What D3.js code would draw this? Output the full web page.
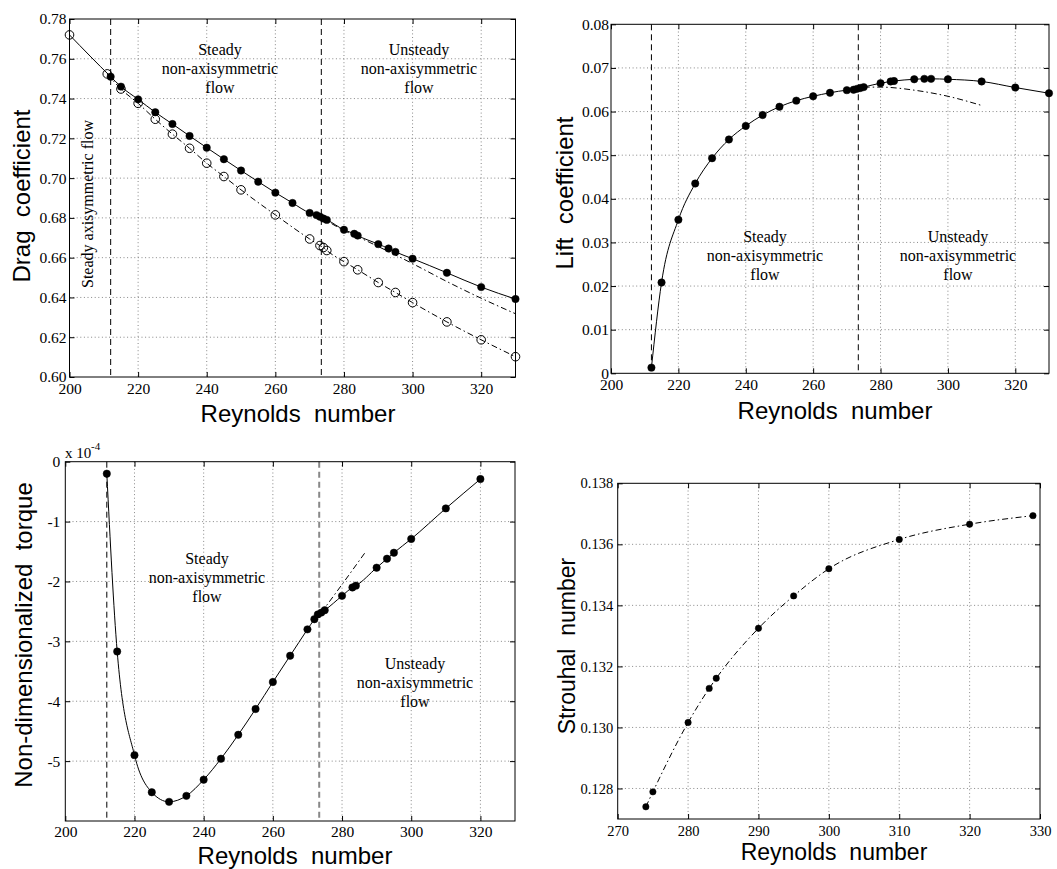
<!DOCTYPE html>
<html>
<head>
<meta charset="utf-8">
<script src="https://cdn.jsdelivr.net/npm/d3@7"></script>
<style>
  html, body { margin: 0; padding: 0; background: #fff; }
  svg { display: block; }
</style>
</head>
<body>
<svg id="chart" width="1057" height="869"></svg>
<script>
// ---------------- DATA ----------------
// Drag coefficient, steady non-axisymmetric / unsteady branch (filled dots, solid line)
const reSteady = [212,215,220,225,230,235,240,245,250,255,260,265,270,272,273,274,275,280,283,284,290,293,295,300,310,320,330];
const cdSteady = [0.7510,0.7460,0.7396,0.7331,0.7272,0.7212,0.7153,0.7095,0.7038,0.6982,0.6927,0.6875,0.6825,0.6814,0.6806,0.6797,0.6790,0.6740,0.6720,0.6711,0.6668,0.6646,0.6629,0.6595,0.6524,0.6452,0.6392];
// Drag coefficient, axisymmetric branch (open circles)
const reAxisym = [200,211,215,220,225,230,235,240,245,250,260,270,273,274,275,280,284,290,295,300,310,320,330];
const cdAxisym = [0.7720,0.7524,0.7448,0.7376,0.7296,0.7221,0.7150,0.7075,0.7008,0.6941,0.6815,0.6694,0.6661,0.6651,0.6636,0.6580,0.6539,0.6475,0.6425,0.6374,0.6277,0.6187,0.6102];
// Drag coefficient, steady continuation (dash-dot)
const reCdExt = [273,280,285,290,300,310,320,330];
const cdExt = [0.6806,0.6737,0.6697,0.6656,0.6570,0.6480,0.6396,0.6318];

// Lift coefficient
const reLift = [212,215,220,225,230,235,240,245,250,255,260,265,270,272,273,274,275,280,283,284,290,293,295,300,310,320,330];
const clLift = [0.0013,0.0208,0.0352,0.0435,0.0493,0.0536,0.0567,0.0592,0.0611,0.0625,0.0635,0.0643,0.0649,0.0650,0.0652,0.0654,0.0656,0.0665,0.0669,0.0670,0.0674,0.0675,0.0675,0.0674,0.0669,0.0655,0.0642];
const reLiftExt = [275,280,290,300,310];
const clLiftExt = [0.0656,0.0656,0.0649,0.0635,0.0614];

// Non-dimensionalized torque (x 10^-4)
const reTorque = [212,215,220,225,230,235,240,245,250,255,260,265,270,272,273,274,275,280,283,284,290,293,295,300,310,320];
const torqueE4 = [-0.20,-3.17,-4.90,-5.52,-5.68,-5.58,-5.31,-4.96,-4.56,-4.13,-3.68,-3.24,-2.80,-2.63,-2.55,-2.52,-2.48,-2.24,-2.10,-2.07,-1.77,-1.62,-1.52,-1.29,-0.78,-0.29];
const reTorqueExt = [274,280,287];
const torqueExtE4 = [-2.52,-2.05,-1.49];

// Strouhal number
const reStrouhal = [274,275,280,283,284,290,295,300,310,320,329];
const stStrouhal = [0.12740,0.12789,0.13016,0.13128,0.13161,0.13325,0.13431,0.13520,0.13616,0.13666,0.13694];

// Regime transitions
const transitionRe = [212, 273.4];

// Ticks
const reTicks = [200,220,240,260,280,300,320];
const reTicksSt = [270,280,290,300,310,320,330];
const cdTicks = [0.60,0.62,0.64,0.66,0.68,0.70,0.72,0.74,0.76,0.78];
const clTicks = [0,0.01,0.02,0.03,0.04,0.05,0.06,0.07,0.08];
const tqTicks = [0,-1,-2,-3,-4,-5];
const stTicks = [0.128,0.130,0.132,0.134,0.136,0.138];

// Labels
const xTitle = "Reynolds\u00a0\u00a0number";
const regimeSteady = ["Steady", "non-axisymmetric", "flow"];
const regimeUnsteady = ["Unsteady", "non-axisymmetric", "flow"];

// ---------------- DRAWING ----------------
const SERIF = "'Liberation Serif','Times New Roman',serif";
const SANS = "'Liberation Sans',Arial,Helvetica,sans-serif";
const svg = d3.select("#chart");

function zip(a, b) { return a.map((v, i) => [v, b[i]]); }

function panel(o) {
  const g = svg.append("g");
  const x = d3.scaleLinear().domain(o.xd).range([o.l, o.r]);
  const y = d3.scaleLinear().domain(o.yd).range([o.b, o.t]);

  // grid
  const gridStyle = s => s.attr("stroke", "#7a7a7a").attr("stroke-width", 0.9).attr("stroke-dasharray", "1,2.6").attr("fill", "none");
  g.append("g").selectAll("line").data(o.xTicks.filter(v => v > o.xd[0] && v < o.xd[1]))
    .join("line").attr("x1", d => x(d)).attr("x2", d => x(d)).attr("y1", o.t).attr("y2", o.b).call(gridStyle);
  g.append("g").selectAll("line").data(o.yTicks.filter(v => v > Math.min(...o.yd) && v < Math.max(...o.yd)))
    .join("line").attr("y1", d => y(d)).attr("y2", d => y(d)).attr("x1", o.l).attr("x2", o.r).call(gridStyle);

  // transitions
  if (o.transitions) {
    o.transitions.forEach((t, i) => {
      const st = o.transStyles ? o.transStyles[i] : {c: "#000", w: 1};
      g.append("line").attr("x1", x(t)).attr("x2", x(t)).attr("y1", o.t).attr("y2", o.b)
        .attr("stroke", st.c).attr("stroke-width", st.w).attr("stroke-dasharray", "6,4");
    });
  }

  // lines
  (o.lines || []).forEach(L => {
    const line = d3.line().x(d => x(d[0])).y(d => y(d[1])).curve(d3.curveMonotoneX);
    g.append("path").attr("d", line(L.data)).attr("fill", "none")
      .attr("stroke", "#000").attr("stroke-width", L.w || 1)
      .attr("stroke-dasharray", L.dash || null);
  });

  // markers
  (o.markers || []).forEach(M => {
    g.append("g").selectAll("circle").data(M.data).join("circle")
      .attr("cx", d => x(d[0])).attr("cy", d => y(d[1])).attr("r", M.r)
      .attr("fill", M.open ? "none" : "#000").attr("stroke", "#000").attr("stroke-width", M.open ? 1 : 0.5);
  });

  // axes
  const fs = o.tickFont || 15.5;
  const ax = g.append("g").attr("transform", `translate(0,${o.b})`)
    .call(d3.axisBottom(x).tickValues(o.xTicks).tickSize(-5).tickSizeOuter(0).tickPadding(o.xPad).tickFormat(d3.format("d")));
  const ay = g.append("g").attr("transform", `translate(${o.l},0)`)
    .call(d3.axisLeft(y).tickValues(o.yTicks).tickSize(-5).tickSizeOuter(0).tickPadding(o.yPad).tickFormat(o.yFmt));
  const at = g.append("g").attr("transform", `translate(0,${o.t})`)
    .call(d3.axisTop(x).tickValues(o.xTicks).tickSize(-5).tickSizeOuter(0).tickFormat(""));
  const ar = g.append("g").attr("transform", `translate(${o.r},0)`)
    .call(d3.axisRight(y).tickValues(o.yTicks).tickSize(-5).tickSizeOuter(0).tickFormat(""));
  [ax, ay, at, ar].forEach(a => {
    a.attr("font-family", SERIF).attr("font-size", fs);
    a.selectAll("path.domain").remove();
    a.selectAll(".tick line").attr("stroke", "#000");
    a.selectAll(".tick text").attr("fill", "#000");
  });
  g.append("rect").attr("x", o.l).attr("y", o.t).attr("width", o.r - o.l).attr("height", o.b - o.t)
    .attr("fill", "none").attr("stroke", "#000").attr("stroke-width", 1);

  // titles
  g.append("text").attr("x", o.xtX).attr("y", o.xtY).attr("text-anchor", "middle")
    .attr("font-family", SANS).attr("font-size", o.titleFont || 24).text(xTitle);
  g.append("text").attr("transform", `translate(${o.ytX},${o.ytY}) rotate(-90)`).attr("text-anchor", "middle")
    .attr("font-family", SANS).attr("font-size", o.titleFont || 24).text(o.yTitle);

  // annotations
  (o.notes || []).forEach(N => {
    N.lines.forEach((s, i) => {
      g.append("text").attr("x", N.x).attr("y", N.y + i * 19).attr("text-anchor", "middle")
        .attr("font-family", SERIF).attr("font-size", 16).text(s);
    });
  });
  return {g, x, y};
}

// Panel 1: drag
const p1 = panel({
  xd: [200, 330], yd: [0.60, 0.78], l: 69.5, r: 515.5, t: 19, b: 377,
  xTicks: reTicks, yTicks: cdTicks, yFmt: d3.format(".2f"), xPad: 6, yPad: 3,
  transitions: transitionRe,
  lines: [
    {data: [[reAxisym[0], cdAxisym[0]]].concat(zip(reSteady, cdSteady))},
    {data: zip(reAxisym.slice(1), cdAxisym.slice(1)), dash: "6,3,1.5,3"},
    {data: zip(reCdExt, cdExt), dash: "6,3,1.5,3"}
  ],
  markers: [
    {data: zip(reAxisym, cdAxisym), r: 4.3, open: true},
    {data: zip(reSteady, cdSteady), r: 3.7}
  ],
  xtX: 298, xtY: 422, ytX: 30, ytY: 196, yTitle: "Drag\u00a0\u00a0coefficient",
  notes: [{x: 220, y: 54.5, lines: regimeSteady}, {x: 419, y: 54.5, lines: regimeUnsteady}]
});
p1.g.append("text").attr("transform", "translate(93,288) rotate(-90)").attr("text-anchor", "start")
  .attr("font-family", SERIF).attr("font-size", 16).text("Steady axisymmetric flow");

// Panel 2: lift
panel({
  xd: [200, 330], yd: [0, 0.08], l: 611, r: 1049, t: 24.3, b: 373.3,
  xTicks: reTicks, yTicks: clTicks, yFmt: d => d === 0 ? "0" : d3.format(".2f")(d), xPad: 5.5, yPad: 2,
  transitions: transitionRe,
  lines: [
    {data: zip(reLift, clLift)},
    {data: zip(reLiftExt, clLiftExt), dash: "6,3,1.5,3"}
  ],
  markers: [{data: zip(reLift, clLift), r: 3.7}],
  xtX: 835, xtY: 419, ytX: 573, ytY: 193, yTitle: "Lift\u00a0\u00a0coefficient",
  notes: [{x: 765, y: 242, lines: regimeSteady}, {x: 958, y: 242, lines: regimeUnsteady}]
});

// Panel 3: torque
const p3 = panel({
  xd: [200, 330], yd: [-6, 0], l: 65.3, r: 515, t: 461.7, b: 821,
  xTicks: reTicks, yTicks: tqTicks, yFmt: d => String(d), xPad: 5, yPad: 5,
  transitions: transitionRe, transStyles: [{c: "#000", w: 1}, {c: "#888", w: 2}],
  lines: [
    {data: zip(reTorque, torqueE4)},
    {data: zip(reTorqueExt, torqueExtE4), dash: "6,3,1.5,3"}
  ],
  markers: [{data: zip(reTorque, torqueE4), r: 3.7}],
  xtX: 295, xtY: 864, ytX: 32, ytY: 635, yTitle: "Non-dimensionalized\u00a0\u00a0torque",
  notes: [{x: 207, y: 563.5, lines: regimeSteady}, {x: 415, y: 668.5, lines: regimeUnsteady}]
});
p3.g.append("text").attr("x", 65).attr("y", 457.5).attr("font-family", SERIF).attr("font-size", 15).text("x 10");
p3.g.append("text").attr("x", 91).attr("y", 449.5).attr("font-family", SERIF).attr("font-size", 11).text("-4");

// Panel 4: Strouhal
panel({
  xd: [270, 330], yd: [0.127, 0.138], l: 617.7, r: 1040, t: 483.3, b: 819,
  xTicks: reTicksSt, yTicks: stTicks, yFmt: d3.format(".3f"), xPad: 7, yPad: 4.5, tickFont: 14.5,
  lines: [{data: zip(reStrouhal, stStrouhal), dash: "6,3,1.5,3"}],
  markers: [{data: zip(reStrouhal, stStrouhal), r: 3.2}],
  xtX: 834, xtY: 860, ytX: 575, ytY: 646, yTitle: "Strouhal\u00a0\u00a0number", titleFont: 23
});
</script>
</body>
</html>
